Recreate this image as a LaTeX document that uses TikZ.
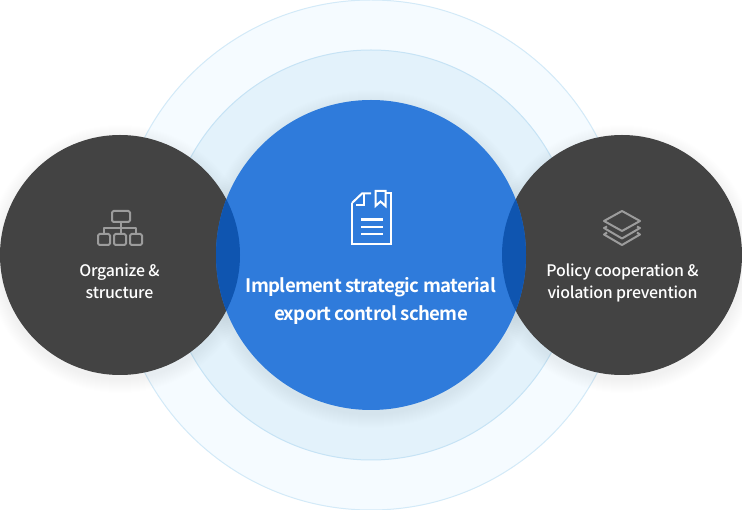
\documentclass[tikz,border=0pt]{standalone}
\usepackage{fontspec}
\setmainfont{Noto Sans CJK KR}
\newfontfamily\mediumfont[LetterSpace=-1.5]{Noto Sans CJK KR Medium}
\newfontfamily\headfont[LetterSpace=-3.5]{Noto Sans CJK KR Bold}
\usetikzlibrary{positioning}
\definecolor{outerfill}{HTML}{F5FBFF}
\definecolor{outerline}{HTML}{D3EAF8}
\definecolor{midfill}{HTML}{E3F2FB}
\definecolor{midline}{HTML}{C6E3F5}
\definecolor{mainblue}{HTML}{2F7BDB}
\definecolor{lensblue}{HTML}{0F55B0}
\definecolor{darkdisc}{HTML}{434343}
\definecolor{icongray}{HTML}{9C9C9C}
\tikzset{
  disc/.style={circle,inner sep=0pt,minimum size=#1},
  sidelabel/.style={text=white,font=\mediumfont\fontsize{15.9}{22}\selectfont,align=center},
  mainlabel/.style={text=white,font=\headfont\fontsize{18.6}{28}\selectfont,align=center},
  iconline/.style={draw=icongray,line width=2pt,line join=round},
  docline/.style={draw=white,line width=2pt,line join=miter}
}
\newcommand{\softshadow}[3]{%
  \foreach \s in {1,...,14} {
    \fill[#1,opacity=0.004] (#2) circle ({#3+15-\s});
  }
}
\begin{document}
\begin{tikzpicture}[x=1pt,y=-1pt]
\useasboundingbox (0,0) rectangle (742,510);
\fill[white] (0,0) rectangle (742,510);
% rings
\node[disc=510pt,fill=outerfill,draw=outerline,line width=1pt] (outerring) at (371,255) {};
\node[disc=410pt,fill=midfill,draw=midline,line width=1pt] (midring) at (371,255) {};
% shadows
\softshadow{black}{371,259}{155}
\softshadow{black}{120,259}{120}
\softshadow{black}{622,259}{120}
% discs
\node[disc=240pt,fill=darkdisc] (leftdisc) at (120,255) {};
\node[disc=240pt,fill=darkdisc] (rightdisc) at (622,255) {};
\node[disc=310pt,fill=mainblue] (maindisc) at (371,255) {};
\begin{scope}
\clip (371,255) circle (155);
\fill[lensblue] (120,255) circle (120);
\fill[lensblue] (622,255) circle (120);
\end{scope}
% document icon
\draw[docline] (352,203) -- (362,193.5) -- (371,193.5);
\draw[docline] (352,203) -- (352,244.5) -- (391,244.5) -- (391,193.5) -- (385.5,193.5);
\draw[docline] (363.5,194) -- (363.5,205) -- (356,205);
\draw[docline] (375.5,191) -- (385.5,191) -- (385.5,206) -- (380.5,201.5) -- (375.5,206) -- cycle;
\foreach \y in {219.5,226.8,234} {
  \draw[draw=white,line width=2.2pt] (361,\y) -- (383,\y);
}
% org icon
\draw[iconline,rounded corners=1.5pt] (112,211) rectangle (130,222);
\foreach \x in {98,114,130} {
  \draw[iconline,rounded corners=1.5pt] (\x,234) rectangle (\x+12,245);
}
\draw[iconline] (121,222) -- (121,234);
\draw[iconline] (104,234) -- (104,228) -- (136,228) -- (136,234);
% layers icon
\draw[iconline] (622,211) -- (640,221) -- (622,231) -- (604,221) -- cycle;
\draw[iconline] (607,226.5) -- (604,228) -- (622,238.5) -- (640,228) -- (637,226.5);
\draw[iconline] (607,232.5) -- (604,234.5) -- (622,245) -- (640,234.5) -- (637,232.5);
% labels
\node[sidelabel] (leftlabel) at (119.5,281) {Organize \&\\structure};
\node[sidelabel] (rightlabel) at (622.5,282.5) {Policy cooperation \&\\violation prevention};
\node[mainlabel] (mainlabel) at (371,301) {Implement strategic material\\export control scheme};
\end{tikzpicture}
\end{document}
